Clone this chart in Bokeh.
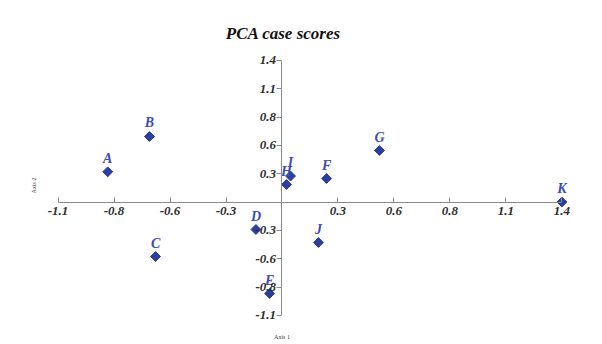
import math
from bokeh.plotting import figure
from bokeh.models import ColumnDataSource, FixedTicker, Label
from bokeh.core.properties import value
from bokeh.embed import file_html
from bokeh.resources import INLINE

# ---- data ----
cases = ["A", "B", "C", "D", "E", "F", "G", "H", "I", "J", "K"]
axis1 = [-0.856, -0.651, -0.621, -0.128, -0.061, 0.219, 0.479, 0.022, 0.042, 0.179, 1.375]
axis2 = [0.293, 0.636, -0.529, -0.267, -0.888, 0.228, 0.500, 0.170, 0.252, -0.393, 0.0]

x_tick_values = [-1.1, -0.825, -0.55, -0.275, 0.275, 0.55, 0.825, 1.1, 1.375]
x_tick_labels = ["-1.1", "-0.8", "-0.6", "-0.3", "0.3", "0.6", "0.8", "1.1", "1.4"]
y_tick_values = [-1.1, -0.825, -0.55, -0.275, 0.275, 0.55, 0.825, 1.1, 1.375]
y_tick_labels = ["-1.1", "-0.8", "-0.6", "-0.3", "0.3", "0.6", "0.8", "1.1", "1.4"]

title_text = "PCA case scores"
x_label = "Axis 1"
y_label = "Axis 2"

SERIF = "Liberation Serif"
POINT_COLOR = "#2c3e9e"
LABEL_COLOR = "#3b4db3"
AXIS_COLOR = "#8a8a8a"

src = ColumnDataSource(dict(x=axis1, y=axis2, name=cases))

p = figure(width=602, height=344, x_range=(-1.3826, 1.5742), y_range=(-1.383, 1.956),
           output_backend="svg", toolbar_location=None, min_border=0,
           background_fill_color="white", border_fill_color="white", outline_line_color=None)
p.grid.visible = False

for ax, vals, labs in ((p.xaxis[0], x_tick_values, x_tick_labels),
                       (p.yaxis[0], y_tick_values, y_tick_labels)):
    ax.fixed_location = 0
    ax.ticker = FixedTicker(ticks=vals)
    ax.major_label_overrides = {v: l for v, l in zip(vals, labs)}
    ax.bounds = (-1.1, 1.375)
    ax.axis_line_color = AXIS_COLOR
    ax.major_tick_line_color = AXIS_COLOR
    ax.minor_tick_line_color = None
    ax.major_label_text_font = SERIF
    ax.major_label_text_font_style = "bold italic"
    ax.major_label_text_font_size = "13px"
    ax.major_label_text_color = "#2e2e2e"

p.xaxis.major_tick_in = 5
p.xaxis.major_tick_out = 0
p.xaxis.major_label_standoff = 5
p.yaxis.major_tick_in = 0
p.yaxis.major_tick_out = 5
p.yaxis.major_label_standoff = 1

p.scatter("x", "y", source=src, marker="square", angle=math.pi / 4, size=7, color=POINT_COLOR)
p.text("x", "y", text="name", source=src, text_align="center", text_baseline="bottom",
       y_offset=-6, text_font=value(SERIF), text_font_style="bold italic",
       text_font_size="14px", text_color=LABEL_COLOR)

p.add_layout(Label(x=0.007, y=1.636, text=title_text, text_align="center", text_baseline="middle",
                   text_font=SERIF, text_font_style="bold italic", text_font_size="17px",
                   text_color="#111111"))
p.add_layout(Label(x=0.0, y=-1.306, text=x_label, text_align="center", text_baseline="middle",
                   text_font=SERIF, text_font_size="6px", text_color="#444444"))
p.add_layout(Label(x=-1.22, y=0.16, text=y_label, text_align="center", text_baseline="middle",
                   angle=math.pi / 2, text_font=SERIF, text_font_size="6px", text_color="#444444"))

open("out.html", "w").write(file_html(p, INLINE))
